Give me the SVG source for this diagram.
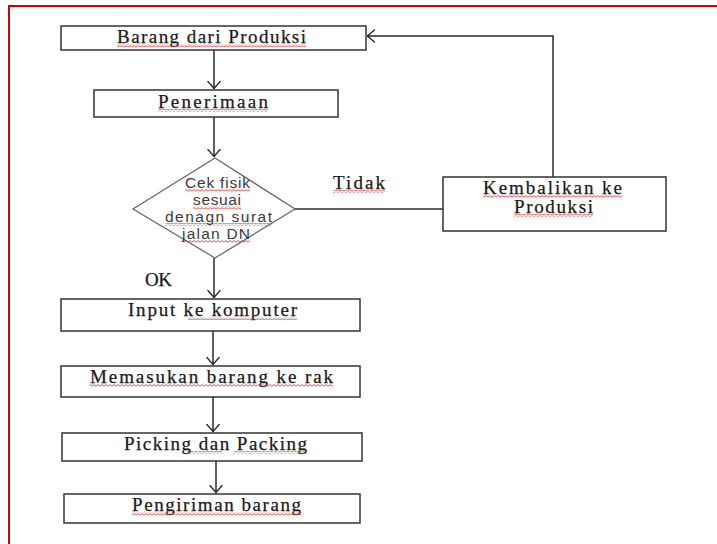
<svg xmlns="http://www.w3.org/2000/svg" width="717" height="544" viewBox="0 0 717 544">
  <style>
    .box { fill: #ffffff; stroke: #333333; stroke-width: 1.5; }
    .dia { fill: #ffffff; stroke: #6a6a6a; stroke-width: 1.3; }
    .lbl { font-family: "Liberation Serif", "Times New Roman", serif; font-size: 19px; fill: #1a1a1a; stroke: #1a1a1a; stroke-width: 0.25; }
    .dlbl { font-family: "Liberation Sans", Arial, sans-serif; font-size: 15.5px; fill: #3a3a3a; }
    .wire { fill: none; stroke: #2a2a2a; stroke-width: 1.5; }
    .sq { fill: url(#squigRed); }
    .sqg { fill: url(#squigGreen); }
  </style>
  <defs>
    <marker id="arrow" viewBox="0 0 8 14" refX="8" refY="7" markerWidth="8" markerHeight="14" markerUnits="userSpaceOnUse" orient="auto">
      <path d="M0,0.5 L7.5,7 L0,13.5" fill="none" stroke="#222222" stroke-width="1.3"/>
    </marker>
    <pattern id="squigRed" width="4" height="3" patternUnits="userSpaceOnUse">
      <path d="M0,2.2 L2,0.6 L4,2.2" fill="none" stroke="#e02020" stroke-width="0.8"/>
    </pattern>
    <pattern id="squigGreen" width="4" height="3" patternUnits="userSpaceOnUse">
      <path d="M0,2.2 L2,0.6 L4,2.2" fill="none" stroke="#20a040" stroke-width="0.8"/>
    </pattern>
  </defs>

  <rect width="717" height="544" fill="#ffffff"/>

  <!-- page frame -->
  <g id="frame" fill="none" stroke="#d40000" stroke-width="2">
    <path d="M9,544 L9,6 L717,6"/>
  </g>

  <!-- connectors -->
  <g id="connectors">
    <path class="wire" d="M214,50 L214,89" marker-end="url(#arrow)"/>
    <path class="wire" d="M214,117 L214,157" marker-end="url(#arrow)"/>
    <path class="wire" d="M214,258 L214,298" marker-end="url(#arrow)"/>
    <path class="wire" d="M213,331 L213,365" marker-end="url(#arrow)"/>
    <path class="wire" d="M213,397 L213,432" marker-end="url(#arrow)"/>
    <path class="wire" d="M216,461 L216,493" marker-end="url(#arrow)"/>
    <path class="wire" d="M295,209 L443,209"/>
    <path class="wire" d="M553,177 L553,36 L367,36" marker-end="url(#arrow)"/>
    <text class="lbl" x="333" y="189" textLength="52" lengthAdjust="spacing">Tidak</text>
    <rect class="sq" x="333" y="190" width="52" height="3"/>
    <text class="lbl" x="145" y="286" textLength="27" lengthAdjust="spacing">OK</text>
  </g>

  <g id="barang-dari-produksi">
    <rect class="box" x="61" y="26" width="305" height="24"/>
    <text class="lbl" x="117" y="43" textLength="189" lengthAdjust="spacing">Barang dari Produksi</text>
    <rect class="sq" x="117" y="44" width="189" height="3"/>
  </g>

  <g id="penerimaan">
    <rect class="box" x="94" y="90" width="244" height="27"/>
    <text class="lbl" x="158" y="108" textLength="110" lengthAdjust="spacing">Penerimaan</text>
    <rect class="sq" x="158" y="109" width="110" height="3"/>
  </g>

  <g id="cek-fisik">
    <polygon class="dia" points="215,158 295,209 215,258 133,209"/>
    <text class="dlbl" x="185" y="188" textLength="65" lengthAdjust="spacing">Cek fisik</text>
    <text class="dlbl" x="193" y="205" textLength="48" lengthAdjust="spacing">sesuai</text>
    <text class="dlbl" x="165" y="222" textLength="107" lengthAdjust="spacing">denagn surat</text>
    <text class="dlbl" x="182" y="239" textLength="68" lengthAdjust="spacing">jalan DN</text>
    <rect class="sq" x="185" y="189" width="65" height="3"/>
    <rect class="sq" x="193" y="206" width="48" height="3"/>
    <rect class="sq" x="165" y="223" width="107" height="3"/>
    <rect class="sq" x="182" y="240" width="68" height="3"/>
  </g>

  <g id="kembalikan-ke-produksi">
    <rect class="box" x="443" y="177" width="223" height="54"/>
    <text class="lbl" x="483" y="194" textLength="139" lengthAdjust="spacing">Kembalikan ke</text>
    <text class="lbl" x="514" y="213" textLength="79" lengthAdjust="spacing">Produksi</text>
    <rect class="sq" x="483" y="195" width="139" height="3"/>
    <rect class="sq" x="514" y="214" width="79" height="3"/>
  </g>

  <g id="input-ke-komputer">
    <rect class="box" x="61" y="299" width="299" height="32"/>
    <text class="lbl" x="128" y="316" textLength="169" lengthAdjust="spacing">Input ke komputer</text>
    <rect class="sq" x="188" y="317" width="109" height="3"/>
  </g>

  <g id="memasukan-barang">
    <rect class="box" x="61" y="366" width="299" height="31"/>
    <text class="lbl" x="90" y="383" textLength="243" lengthAdjust="spacing">Memasukan barang ke rak</text>
    <rect class="sq" x="90" y="384" width="243" height="3"/>
  </g>

  <g id="picking-packing">
    <rect class="box" x="62" y="433" width="300" height="28"/>
    <text class="lbl" x="124" y="450" textLength="183" lengthAdjust="spacing">Picking dan Packing</text>
    <rect class="sq" x="187" y="451" width="35" height="3"/>
    <rect class="sqg" x="233" y="451" width="74" height="3"/>
  </g>

  <g id="pengiriman-barang">
    <rect class="box" x="64" y="494" width="296" height="29"/>
    <text class="lbl" x="132" y="511" textLength="169" lengthAdjust="spacing">Pengiriman barang</text>
    <rect class="sq" x="132" y="512" width="169" height="3"/>
  </g>
</svg>
